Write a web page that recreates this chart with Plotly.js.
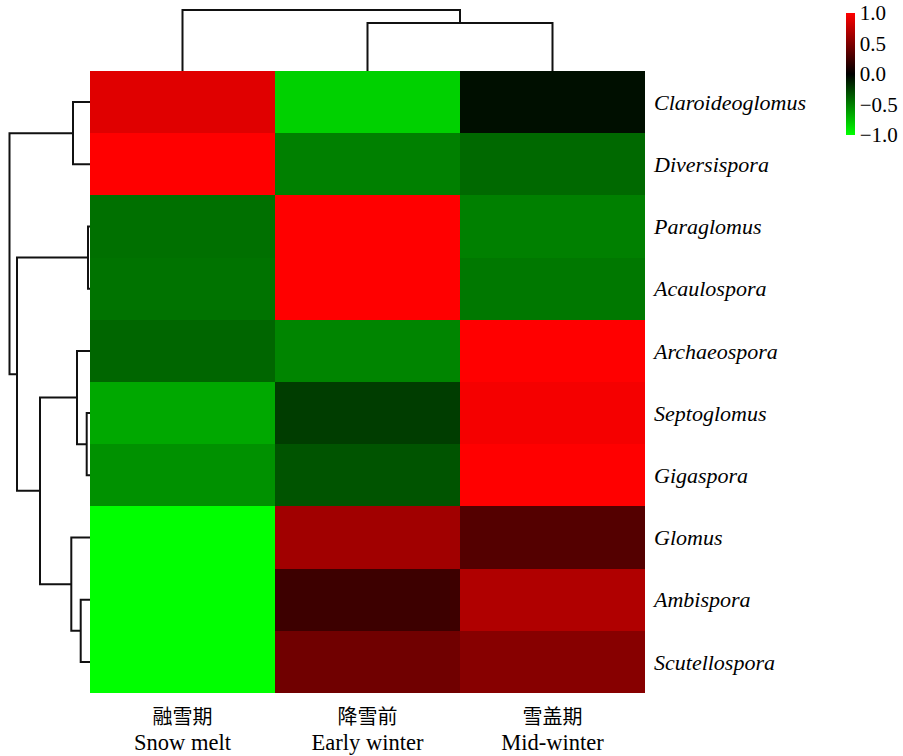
<!DOCTYPE html>
<html>
<head>
<meta charset="utf-8">
<script src="https://cdn.plot.ly/plotly-3.0.1.min.js"></script>
<style>html,body{margin:0;padding:0;background:#fff;}#chart{width:903px;height:756px;}</style>
</head>
<body>
<div id="chart"></div>
<script>
// ---- data ----
const genera = ["Claroideoglomus","Diversispora","Paraglomus","Acaulospora","Archaeospora","Septoglomus","Gigaspora","Glomus","Ambispora","Scutellospora"];
const periodsCN = ["融雪期","降雪前","雪盖期"];
const periodsEN = ["Snow melt","Early winter","Mid-winter"];
const snowMelt    = [0.88, 1.00, -0.44, -0.45, -0.40, -0.66, -0.57, -1.00, -1.00, -1.00];
const earlyWinter = [-0.82, -0.50, 1.00, 1.00, -0.52, -0.24, -0.33, 0.63, 0.24, 0.44];
const midWinter   = [-0.06, -0.41, -0.50, -0.47, 1.00, 0.96, 1.00, 0.33, 0.69, 0.53];
// row dendrogram merges: [childA, childB, height]; leaves 0..9, new nodes numbered from 10
const rowMerges = [[0,1,17],[2,3,2],[5,6,3.3],[4,12,13],[8,9,9.3],[7,14,18.7],[13,15,50],[11,16,73],[10,17,80.5]];
// column dendrogram merges; leaves 0..2, new nodes from 3
const colMerges = [[1,2,48],[0,3,61]];
const cbTicks = [-1,-0.5,0,0.5,1];
const cbTickText = ["\u22121.0","\u22120.5","0.0","0.5","1.0"];

// ---- build ----
const z = genera.map((g,i)=>[snowMelt[i], earlyWinter[i], midWinter[i]]);

function dendro(nLeaves, merges){
  const pos = [], hgt = [];
  for(let i=0;i<nLeaves;i++){pos.push(i);hgt.push(0);}
  const P=[], H=[];
  merges.forEach(m=>{
    const [a,b,h]=m;
    P.push(pos[a],pos[a],pos[b],pos[b],null);
    H.push(hgt[a],h,h,hgt[b],null);
    pos.push((pos[a]+pos[b])/2); hgt.push(h);
  });
  return {P,H};
}
const rd = dendro(genera.length, rowMerges);
const cd = dendro(periodsCN.length, colMerges);

const W=903, Hh=756;
const hx0=90/W, hx1=645/W, hy0=(Hh-693)/Hh, hy1=(Hh-71)/Hh;
const serif = "'Liberation Serif', 'Times New Roman', serif";
const cjk = "'Liberation Serif', 'Noto Sans CJK SC', serif";

const traces = [
  {type:'heatmap', z:z, x:[0,1,2], y:genera.map((g,i)=>i), xaxis:'x', yaxis:'y',
   zmin:-1, zmax:1,
   colorscale:[[0,'#00ff00'],[0.5,'#000000'],[1,'#ff0000']],
   xgap:0, ygap:0, hoverinfo:'z',
   colorbar:{x:845.5/W, xanchor:'left', y:(Hh-13)/Hh, yanchor:'top', len:122, lenmode:'pixels',
     thickness:9, outlinewidth:0, xpad:0, ypad:0, tickvals:cbTicks, ticktext:cbTickText,
     ticks:'', ticklabelstandoff:3, tickfont:{family:serif, size:21, color:'#000'}}},
  {type:'scatter', mode:'lines', x:cd.P, y:cd.H, xaxis:'x2', yaxis:'y2',
   line:{color:'#111', width:2}, hoverinfo:'skip', showlegend:false, connectgaps:false},
  {type:'scatter', mode:'lines', x:rd.H, y:rd.P, xaxis:'x3', yaxis:'y',
   line:{color:'#111', width:2}, hoverinfo:'skip', showlegend:false, connectgaps:false}
];

const layout = {
  width:W, height:Hh, margin:{l:0,r:0,t:0,b:0},
  paper_bgcolor:'#fff', plot_bgcolor:'rgba(0,0,0,0)', showlegend:false,
  xaxis:{domain:[hx0,hx1], range:[-0.5,2.5], tickvals:[0,1,2],
    ticktext:periodsCN.map((c,i)=>c+'<br><span style="font-size:22.5px">'+periodsEN[i]+'</span>'), ticks:'', ticklabelstandoff:10,
    tickfont:{family:cjk, size:20, color:'#000'}, showgrid:false, zeroline:false, showline:false, anchor:'y', fixedrange:true},
  yaxis:{domain:[hy0,hy1], range:[9.5,-0.5], tickvals:genera.map((g,i)=>i),
    ticktext:genera.map(g=>'<i>'+g+'</i>'), side:'right', ticks:'', ticklabelstandoff:8,
    tickfont:{family:serif, size:22, color:'#000'}, showgrid:false, zeroline:false, showline:false, anchor:'x', fixedrange:true},
  xaxis2:{domain:[hx0,hx1], range:[-0.5,2.5], visible:false, anchor:'y2'},
  yaxis2:{domain:[hy1,1], range:[0,71], visible:false, anchor:'x2'},
  xaxis3:{domain:[0,hx0], range:[90,0], visible:false, anchor:'y'}
};
Plotly.newPlot('chart', traces, layout, {displayModeBar:false, staticPlot:true});
</script>
</body>
</html>
